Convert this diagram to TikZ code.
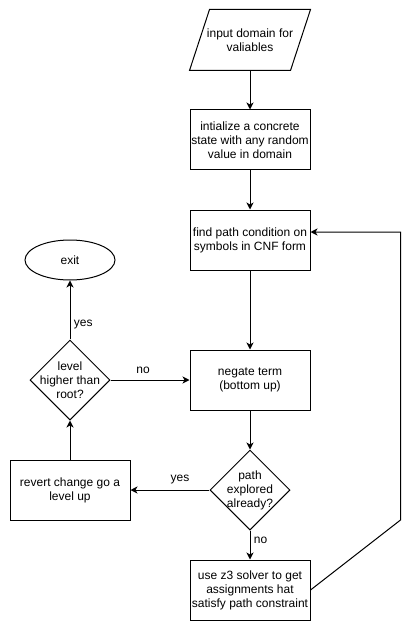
\documentclass[tikz,border=0pt]{standalone}
\usepackage{fontspec}
\setmainfont{Liberation Sans}
\usetikzlibrary{shapes.geometric,arrows.meta}

\begin{document}
\begin{tikzpicture}[x = 1pt, y = -1pt, line width = 1pt,
    every node/.style = {font = \fontsize{12}{14}\selectfont, align = center},
    procbox/.style = {draw, minimum width = 120pt, minimum height = 60pt, inner sep = 1pt},
    askbox/.style = {draw, diamond, minimum width = 80pt, minimum height = 80pt, inner sep = 0pt},
    flow/.style = {-{Stealth[length = 7pt, width = 7pt, inset = 2pt]}}]
        \useasboundingbox (0,0) rectangle (419,631);

        % draws the main column
        \node[minimum width = 120pt, minimum height = 60pt, inner sep = 0pt] (input) at (250,40)
          {input domain for\\ valiables};
        \draw (input.north west) ++(20,0) -- (input.north east)
          -- ([xshift = -20pt]input.south east) -- (input.south west) -- cycle;
        \node[procbox] (init) at (250,140)
          {intialize a concrete\\ state with any random\\ value in domain};
        \node[procbox] (find) at (250,240) {find path condition on\\ symbols in CNF form};
        \node[procbox] (negate) at (250,380) {negate term\\ (bottom up)};
        \node[askbox] (explored) at (250,490) {};
        \node (exploredtext) at (explored) {path\\ explored\\ already?};
        \node[procbox] (solver) at (250,590)
          {use z3 solver to get\\ assignments hat\\ satisfy path constraint};

        % draws the left column
        \node[draw, ellipse, minimum width = 90pt, minimum height = 40pt, inner sep = 0pt] (exit)
          at (70,260) {exit};
        \node[askbox] (level) at (70,380) {};
        \node (leveltext) at (level) {level\\ higher than\\ root?};
        \node[procbox] (revert) at (70,490) {revert change go a\\ level up};

        % draws the arrows
        \foreach \a/\b in {input/init, init/find, find/negate, negate/explored,
                           explored/solver, revert/level, level/exit}
          \draw[flow] (\a) -- (\b);
        \draw[flow] (level) -- (negate);
        \draw[flow] (explored) -- (revert);
        \draw[flow] (solver.east) -- ++(90,-70) |- ([yshift = 8pt]find.east);

        % draws the labels
        \node[anchor = west] (yesup) at (70,325) {yes};
        \node (nolevel) at (143,370) {no};
        \node (yesleft) at (180,480) {yes};
        \node[anchor = west] (nodown) at (250,540) {no};
      \end{tikzpicture}
\end{document}
